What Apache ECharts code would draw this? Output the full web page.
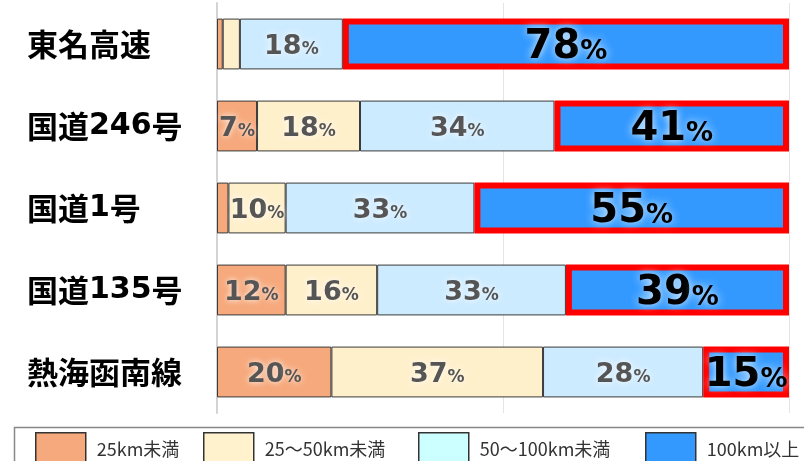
<!DOCTYPE html>
<html><head><meta charset="utf-8">
<script src="https://cdn.jsdelivr.net/npm/echarts@6/dist/echarts.min.js"></script>
<style>html,body{margin:0;padding:0;background:#fff}#c{width:804px;height:461px}</style>
</head><body><div id="c"></div>
<script>
const categories = ['東名高速','国道246号','国道1号','国道135号','熱海函南線'];
const seriesNames = ['25km未満','25～50km未満','50～100km未満','100km以上'];
const under25 = [1, 7, 2, 12, 20];
const from25to50 = [3, 18, 10, 16, 37];
const from50to100 = [18, 34, 33, 33, 28];
const over100 = [78, 41, 55, 39, 15];
const barColors = ['#F6A97C', '#FFF0CC', '#CDEBFF', '#3399FF'];
const legendColors = ['#F6A97C', '#FFF2CC', '#CCFFFF', '#3399FF'];
const legendLefts = [35, 203, 418, 645];

const chart = echarts.init(document.getElementById('c'), null, {renderer: 'canvas'});

function catFormatter(v) {
  return v.split(/(\d+)/).filter(s => s.length).map(s => /\d/.test(s) ? '{d|' + s + '}' : '{c|' + s + '}').join('');
}

const grayLabel = {
  show: true, position: 'inside', offset: [0, 3],
  formatter: p => p.value >= 5 ? '{n|' + p.value + '}{p|%}' : '',
  rich: {
    n: {fontFamily: 'DejaVu Sans', fontWeight: 'bold', fontSize: 27, color: '#555', textShadowColor: 'rgba(255,255,255,0.95)', textShadowBlur: 6},
    p: {fontFamily: 'DejaVu Sans', fontWeight: 'bold', fontSize: 17, color: '#555', padding: [6, 0, 0, 0], textShadowColor: 'rgba(255,255,255,0.95)', textShadowBlur: 6}
  }
};
const blueLabel = {
  show: true, position: 'inside', offset: [0, 4],
  formatter: p => '{n|' + p.value + '}{p|%}',
  rich: {
    n: {fontFamily: 'DejaVu Sans', fontWeight: 'bold', fontSize: 40, color: '#000', textShadowColor: 'rgba(230,245,255,1)', textShadowBlur: 8},
    p: {fontFamily: 'DejaVu Sans', fontWeight: 'bold', fontSize: 27, color: '#000', padding: [8, 0, 0, 0], textShadowColor: 'rgba(230,245,255,1)', textShadowBlur: 8}
  }
};

const dataSets = [under25, from25to50, from50to100, over100];
const series = dataSets.map((d, i) => ({
  name: seriesNames[i],
  type: 'bar',
  stack: 'total',
  barCategoryGap: '38%',
  data: d,
  itemStyle: i < 3 ? {color: barColors[i], borderColor: '#3a3a3a', borderWidth: 1}
                   : {color: barColors[i], borderColor: '#FF0000', borderWidth: 6},
  label: i < 3 ? grayLabel : blueLabel,
  z: i === 3 ? 3 : 2
}));

const legends = seriesNames.map((n, i) => ({
  show: true,
  left: legendLefts[i],
  top: 432,
  itemWidth: 50,
  itemHeight: 32,
  itemGap: 0,
  padding: 0,
  selectedMode: false,
  icon: 'rect',
  data: [{name: n, itemStyle: {color: legendColors[i], borderColor: '#333', borderWidth: 1.5}}],
  textStyle: {fontFamily: 'Noto Sans CJK JP', fontSize: 18, color: '#333', padding: [0, 0, 18, 6]}
}));

chart.setOption({
  animation: false,
  backgroundColor: '#fff',
  grid: {left: 217, right: 15, top: 3, bottom: 48},
  xAxis: {
    type: 'value', min: 0, max: 100, interval: 50,
    axisLabel: {show: false}, axisTick: {show: false}, axisLine: {show: false},
    splitLine: {show: true, lineStyle: {color: '#e4e4e4', width: 1}}
  },
  yAxis: {
    type: 'category', data: categories, inverse: true,
    axisTick: {show: false},
    axisLine: {show: true, lineStyle: {color: '#d4d4d4', width: 2}},
    axisLabel: {
      align: 'left', margin: 190,
      formatter: catFormatter,
      rich: {
        c: {fontFamily: 'Noto Sans CJK JP', fontWeight: 'bold', fontSize: 31, color: '#000'},
        d: {fontFamily: 'DejaVu Sans', fontWeight: 'bold', fontSize: 30, color: '#000'}
      }
    }
  },
  legend: legends,
  graphic: [{
    type: 'rect', left: 12, top: 425, shape: {width: 820, height: 60},
    style: {fill: 'none', stroke: '#888', lineWidth: 1.5}, silent: true
  }],
  series: series
});
</script></body></html>
